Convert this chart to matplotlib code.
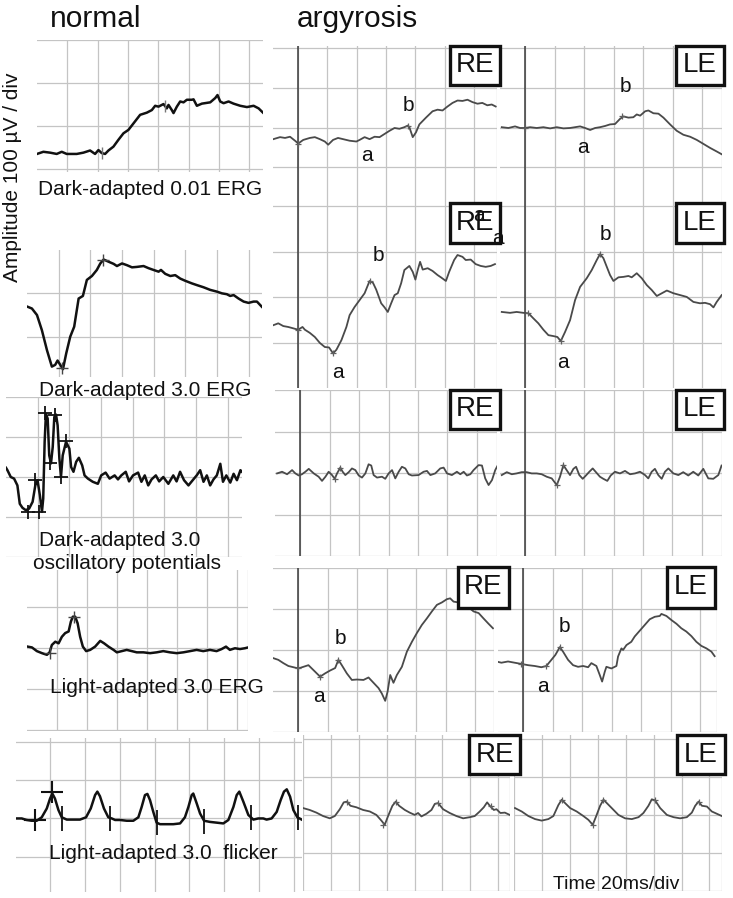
import matplotlib.pyplot as plt
from matplotlib.patches import Rectangle

plt.rcParams['font.family'] = ['Liberation Sans', 'DejaVu Sans']

W, H = 733, 898

# ---- normal column traces (time in ms, amplitude in uV) ----
n1_t = [0, 4.2, 8.6, 13, 16.3, 19.6, 26.2, 30.6, 35, 38.3, 40.5, 42.7, 44.9, 47.1, 50.4, 53.7, 57, 60.3,
        63.6, 68, 72.4, 75.7, 77.9, 80.1, 83.4, 85.6, 86.7, 88.9, 90, 92.2, 94.4, 96.6, 98.8, 102.1, 103.2,
        105.4, 108.7, 114.2, 117.5, 119, 120.8, 123, 126.3, 129.6, 134, 138.4, 142.8, 146.1, 149]
n1_v = [-65, -60, -62, -65, -60, -65, -65, -62, -57, -65, -56, -63, -65, -57, -48, -32, -17, -9,
        6, 26, 31, 37, 47, 45, 51, 41, 49, 37, 30, 45, 57, 55, 61, 61, 62,
        47, 52, 55, 65, 72, 57, 53, 57, 52, 47, 44, 47, 41, 31]
n1_mk_t = [42.7, 84.5]
n1_mk_v = [-63, 47]

n2_t = [0.4, 3.1, 6.3, 9.4, 12.6, 15.7, 17.8, 19.3, 21, 22.7, 24.8, 27.3, 29.8, 32.6, 35.3, 37.8, 41, 44.1,
        46.3, 48.4, 51.5, 54.7, 56.8, 60, 63.1, 66.3, 69.4, 73.6, 76.8, 79.9, 83.1, 84.6, 87.3, 90.5, 93.6,
        96.8, 99.9, 104.1, 107.3, 111.5, 115.7, 119.9, 123.1, 126.2, 128.3, 130.5, 133.6, 136.8, 139.9,
        143.1, 145.2, 148.3]
n2_v = [-31, -35, -50, -85, -131, -169, -165, -155, -165, -175, -138, -100, -77, -12, -6, 31, 40, 54,
        69, 78, 73, 68, 63, 69, 65, 60, 61, 63, 58, 54, 50, 54, 45, 40, 42,
        34, 29, 23, 19, 14, 8, 4, 0, -2, -6, -4, -12, -19, -22,
        -19, -19, -31]
n2_mk_t = [22, 48]
n2_mk_v = [-172, 78]

n3_t = [0, 0.9, 3, 5.1, 7.2, 8.7, 10.4, 12.5, 14.6, 16.8, 18.5, 19.9, 21.4, 22.7, 23.5, 24.4, 25.2, 26.3,
        27.3, 28.4, 29.5, 30.5, 31.6, 32.6, 33.7, 34.7, 35.8, 37.9, 40, 41.1, 42.6, 44.3, 46, 48.1, 49.6,
        51.7, 54.8, 58, 60.1, 62.9, 65.4, 68.6, 70.7, 72.8, 75.6, 77.7, 80.2, 83.4, 85.5, 87.6, 89.8, 91.9,
        94.6, 96.7, 99.3, 102.5, 105.6, 107.7, 109.9, 112.4, 115.2, 118.3, 120.4, 122.6, 124.7, 126.8,
        128.9, 131, 133.1, 135.3, 137, 139.1, 141.6, 143.7, 145.8, 148, 149]
n3_v = [23, 17, 0, -4, -21, -67, -77, -83, -79, -62, -21, -8, -46, -87, -54, 88, 158, 146,
        54, 34, 75, 150, 156, 129, 46, 0, 54, 88, 71, 25, 13, 38, 48, 29, 4,
        -4, -12, -17, 4, 11, -4, 4, -6, 4, 13, -11, 4, 11, -12, 4, -21, -6,
        4, -11, 0, -17, 4, -11, 13, -8, -21, -6, 4, 17, -12, 4,
        -21, -6, 4, 33, -12, 4, -14, 8, -8, 17, 13]
n3_mk_t = [13.6, 18.5, 21, 24.8, 27.8, 31.1, 34.7, 37.9]
n3_mk_v = [-87, -8, -87, 161, 36, 156, 0, 89]

n4_t = [0.4, 3.3, 6.6, 10, 13.3, 15.1, 16.6, 18.9, 21.1, 23.3, 25.5, 27.8, 29.3, 30.6, 32.2, 33.8, 35.5,
        37.3, 39.5, 42.2, 45.5, 48.9, 51.5, 54.4, 57.8, 60, 63.3, 66.6, 70, 73.3, 77.7, 82.2, 86.6, 91,
        95.5, 100, 104.4, 108.9, 113.3, 117.7, 122.2, 126.6, 130, 132.9, 135.5, 138.9, 142.2, 145.5, 147.7]
n4_v = [4, 2, -7, -12, -16, -10, 8, 16, 12, 28, 37, 41, 65, 77, 77, 61, 28,
        4, -7, -4, 4, 18, 12, 4, -4, -10, -7, -4, -7, -10, -10, -12, -10, -7,
        -10, -12, -10, -7, -4, -7, -4, -7, -2, 4, -4, 0, -2, 0, 2]
n4_mk_t = [15.1, 31.5]
n4_mk_v = [-12, 77]

n5_t = [0.7, 3.6, 6.4, 9.3, 12.2, 15.1, 18, 19.9, 21.2, 22.7, 24.7, 26.6, 29.5, 33.3, 37.1, 40.6, 43.3,
        45.8, 47.1, 48.6, 50.9, 53.4, 55.4, 57.3, 60.1, 64, 67.8, 70.7, 72.6, 74.5, 75.9, 77.4, 79.3, 81.2,
        83.2, 87, 90.8, 94.7, 97.5, 99.5, 101.4, 102.3, 104.3, 106.2, 108.5, 111.9, 115.8, 119.6, 122.5,
        125.4, 127.3, 128.8, 131.1, 134, 136.9, 139.7, 142.6, 144.5, 147.4, 150.3, 152.6, 154.5, 156.1,
        158, 159.9, 162.2, 164.7]
n5_v = [0, 0, -4, -6, -6, 3, 26, 52, 65, 52, 22, 3, -3, -3, -3, 3, 26,
        61, 70, 58, 26, 3, 0, -4, -4, -6, -6, 3, 30, 61, 64, 48, 17, -11,
        -15, -15, -15, -13, 3, 30, 61, 65, 39, 13, -6, -9, -11, -13, -4,
        30, 61, 70, 44, 9, -3, 0, 0, -3, 0, 17, 48, 70, 76, 57, 22, 3, -3]
n5_plus_t = [11.2, 20.8]
n5_plus_v = [-4, 70]
n5_tick_t = [26.6, 54.4, 81.2, 108.5, 135.3, 162.8]
n5_tick_v = [0, 0, -9, -6, 3, 3]

# ---- argyrosis traces ----
re1_t = [-16.7, -12.2, -8.8, -5.4, -2, 0.2, 3.6, 8.1, 11.5, 14.9, 18.3, 20.6, 23.9, 27.3, 30.7, 35.2, 39.8,
         42, 45.4, 48.8, 52.2, 55.6, 59, 62.4, 65.8, 69.1, 72.5, 74.8, 75.9, 78.2, 80.4, 82.7, 87.2, 91.7,
         95.1, 98.5, 101.9, 105.3, 108.7, 112.1, 115.5, 118.9, 122.3, 125.6, 129, 132, 134.7]
re1_v = [-29, -24, -26, -23, -33, -40, -31, -26, -24, -29, -35, -43, -31, -26, -29, -33, -35,
         -31, -24, -29, -23, -24, -16, -8, -1, -3, 1, 5, 1, -24, -12, 8, 25, 41,
         45, 43, 53, 62, 68, 67, 70, 64, 60, 62, 56, 58, 53]
re1_mk_t = [0.2, 74.8]
re1_mk_v = [-40, 5]

le1_t = [-15.8, -11.3, -6.8, -3.4, 0, 3.4, 7.9, 12.4, 17, 21.5, 26, 30.5, 33.9, 37.3, 40.7, 44.1, 47.5,
         50.8, 54.2, 57.6, 61, 64.4, 66.7, 70.1, 73.4, 75.7, 78, 81.4, 83.6, 87, 90.4, 93.8, 98.3, 102.8,
         107.3, 111.9, 116.4, 120.9, 125.4, 129.9, 133.3]
le1_v = [1, -1, 3, -1, -1, 1, -1, 1, -2, 1, -2, -1, 1, 3, -1, -6, -1,
         1, 4, 8, 9, 22, 28, 25, 26, 33, 30, 41, 43, 36, 35, 25, 8, -8,
         -18, -23, -31, -41, -51, -60, -67]
le1_mk_t = [0, 65.5]
le1_mk_v = [-1, 28]

re2_t = [-16.7, -13.4, -10, -6.6, -3.2, 0.2, 3.1, 4.7, 8.1, 11.5, 14.9, 18.3, 21.2, 23.9, 26.2, 29.6, 33,
         35.2, 38.6, 42, 45.4, 48.8, 51.1, 53.3, 56.7, 59, 61.2, 63.5, 65.8, 68, 70.3, 72.5, 75.9, 78.2,
         80, 81.6, 83.2, 85, 88.4, 91.7, 95.1, 97.4, 100.8, 103, 106.4, 108.7, 112.1, 114.3, 117.7, 121.1,
         124.5, 127.9, 131.3, 134.2]
re2_v = [-61, -57, -63, -65, -68, -71, -65, -71, -78, -87, -100, -109, -110, -123, -115, -94, -65,
         -39, -21, -6, 9, 36, 32, 17, -13, -22, -32, -13, 5, 9, 31, 60, 69, 56,
         39, 60, 78, 61, 64, 58, 49, 44, 36, 56, 82, 93, 89, 82, 83, 73,
         69, 67, 69, 73]
re2_mk_t = [0.2, 23.9, 48.8]
re2_mk_v = [-71, -123, 36]

le2_t = [-15.8, -10.2, -5.7, -1.1, 2.3, 5.6, 9, 12.4, 15.8, 19.2, 21.9, 24.2, 27.1, 30.5, 33.9, 37.3, 41.8,
         45.2, 48.6, 50.8, 53.1, 55.4, 57.6, 59.9, 63.3, 66.7, 70.1, 72.3, 75.7, 79.1, 82.5, 85.9, 89.3,
         92.7, 96.1, 100.6, 105.1, 109.6, 114.1, 118.6, 122, 125.4, 127.7, 129.9, 133.3]
le2_v = [-32, -34, -32, -34, -35, -46, -57, -71, -83, -85, -87, -96, -76, -50, -6, 23, 42,
         60, 82, 95, 86, 67, 49, 36, 44, 45, 47, 44, 53, 42, 27, 16, 3,
         9, 15, 9, 5, 1, -10, -13, -12, -15, -22, -10, 5]
le2_mk_t = [2.3, 24.2, 50.8]
le2_mk_v = [-35, -96, 95]

re3_t = [-15.6, -12.2, -8.8, -5.4, -3.2, -0.9, 1.3, 3.6, 5.9, 9.3, 12.6, 14.9, 17.2, 19.4, 21.7, 23.5, 25.1,
         27.3, 28.9, 30.7, 33, 35.2, 37.5, 39.8, 42, 44.3, 46.5, 48.3, 49.9, 52.2, 55.6, 57.8, 60.1, 62.4,
         64.6, 66.9, 69.1, 71.4, 73.7, 75.9, 80.4, 83.8, 86.1, 88.4, 91.7, 95.1, 97.4, 99.7, 103, 106.4,
         108.7, 111, 113.2, 115.5, 117.7, 121.1, 123.4, 125.6, 127.9, 130.2, 132.4, 134.2]
re3_v = [-1, 3, -3, 7, -1, -6, -3, 3, 10, -1, -9, -19, -9, 3, -5, -14, -1,
         13, 3, -5, 2, 11, 7, -6, -11, -1, 21, 18, -5, -11, -9, -14, -1, 7,
         -13, 3, 15, 11, -3, -6, -5, 3, 5, -5, -1, 11, 13, -1, -5, 3,
         -3, 3, -6, -3, 7, 19, 18, -13, -29, -17, 7, 19]
re3_mk_t = [23.5, 27.3]
re3_mk_v = [-14, 13]

le3_t = [-15.8, -12.4, -9, -5.7, -2.3, 1.1, 4.5, 7.9, 11.3, 14.7, 18.1, 21.5, 23.7, 26, 28.2, 30.5, 32.8,
         34.6, 36.8, 39.1, 41.3, 43.6, 45.9, 48.1, 50.8, 53.1, 55.8, 58.1, 61, 64.4, 67.8, 71.2, 74.6, 78,
         81.4, 83.6, 85.9, 88.1, 90.4, 92.7, 94.9, 97.2, 100.6, 104, 107.3, 110.7, 114.1, 117.5, 120.9,
         124.3, 127.7, 131.1, 133.3]
le3_v = [-5, 2, -3, -1, 2, 2, -1, -1, -3, -9, -13, -29, -9, 19, 7, -5, 10,
         15, -5, -14, -6, 3, 11, 2, -9, -14, -19, -6, 3, -1, 5, -3, -1, 3,
         -5, -13, 3, 10, -5, -14, 3, 11, -1, -5, 2, -6, 3, -6, 10, -13, -14, -5, 18]
le3_mk_t = [21.5, 26]
le3_mk_v = [-29, 19]

re4_t = [-16.7, -13.4, -10, -6.6, -3.2, 0.2, 3.6, 7, 10.4, 14.9, 18.3, 21.7, 25.1, 27.3, 29.6, 33, 36.4,
         39.8, 44.3, 47.7, 51.1, 54.5, 56.7, 59, 60.6, 62.4, 64.6, 66.9, 70.3, 73.7, 77.1, 80.4, 83.8, 87.2,
         90.6, 94, 97.4, 100.8, 103, 105.3, 108.7, 112.1, 115.5, 118.9, 122.3, 125.6, 129, 132]
re4_v = [-20, -24, -32, -39, -42, -45, -41, -37, -49, -65, -57, -50, -44, -24, -37, -57, -73,
         -72, -73, -67, -80, -93, -106, -124, -102, -61, -80, -61, -41, -4, 20, 41, 61, 77,
         94, 110, 116, 124, 126, 118, 116, 112, 104, 94, 90, 77, 64, 53]
re4_mk_t = [0.2, 14.9, 27.3]
re4_mk_v = [-45, -65, -24]

le4_t = [-18.1, -14.7, -10.2, -5.7, -1.1, 3.4, 7.9, 12.4, 15.8, 19.2, 21.9, 24.9, 27.1, 30.5, 33.9, 37.3,
         40.7, 44.1, 46.3, 49.7, 52, 53.6, 55.4, 56.5, 59.9, 63.3, 64.4, 66.7, 67.8, 70.1, 73.4, 75.7, 79.1,
         82.5, 85.9, 89.3, 92.7, 93.8, 97.2, 100.6, 104, 107.3, 110.7, 114.1, 117.5, 120.9, 124.3, 127.7,
         129.9]
le4_v = [-28, -31, -28, -31, -34, -37, -39, -42, -39, -24, -12, 7, -4, -24, -37, -41,
         -39, -42, -32, -39, -61, -77, -53, -41, -45, -39, -16, 4, 0, 12, 20, 33, 47,
         61, 75, 81, 83, 88, 83, 73, 64, 53, 45, 34, 20, 10, 4, -4, -15]
le4_mk_t = [-1.1, 15.8, 24.9]
le4_mk_v = [-34, -39, 7]

re5_t = [0, 4.8, 9.6, 14.4, 19.2, 22.8, 26.4, 29.2, 31.6, 34, 38.3, 43.1, 47.9, 52.6, 56.2, 58.6, 61, 64.1,
         66.5, 68.9, 73, 76.5, 80.1, 82.5, 84.9, 88.5, 92.1, 94.5, 96.9, 100.4, 105.2, 110, 114.8, 119.6,
         123.1, 126.7, 129.6, 132, 133.9, 136.8, 138.7, 141.5, 144.7, 148.2]
re5_v = [18, 13, 6, -3, -9, -3, 15, 33, 35, 24, 20, 13, 9, 0, -15, -26, -3, 24,
         35, 24, 13, 6, 0, 5, -4, 3, 13, 29, 31, 15, 5, -3, -9, -6, -3, 9, 20, 33, 24, 13, 15, 5, 6, 0]
re5_mk_t = [31.6, 57.4, 66.5, 96.9, 134.6]
re5_mk_v = [35, -26, 35, 31, 24]

le5_t = [0.7, 5.5, 10.3, 15.1, 19.8, 24.6, 28.2, 31.8, 34.2, 36.6, 40.2, 44.9, 49.7, 53.3, 56.4, 58.8, 61.7,
         64.1, 66.5, 70, 74.8, 79.6, 84.4, 89.2, 92.7, 96.3, 98.7, 101.1, 104.7, 109.5, 114.3, 119, 123.8,
         127.4, 129.8, 132.2, 134.6, 138.2, 141.7, 145.3, 148.9]
le5_v = [18, 9, -3, -11, -15, -11, -3, 26, 40, 31, 18, 9, -3, -13, -26, -4, 24,
         40, 31, 18, 0, -9, -11, -6, 5, 24, 41, 38, 18, 0, -6, -9, -6, 6, 24, 35, 24, 22, 9, 3, -3]
le5_mk_t = [34.2, 56.4, 64.1, 101.1, 132.2]
le5_mk_v = [40, -26, 40, 38, 35]

BLACK = '#111111'
TRACE_GRAY = '#4a4a4a'
GRID = '#c4c4c4'


def panel(l, t, r, b, xlim, ylim, xgrid, ygrid):
    ax = fig.add_axes([l / W, 1 - b / H, (r - l) / W, (b - t) / H])
    ax.set_xlim(*xlim)
    ax.set_ylim(*ylim)
    ax.set_xticks(xgrid)
    ax.set_yticks(ygrid)
    ax.grid(True, color=GRID, linewidth=0.9)
    ax.tick_params(length=0, labelbottom=False, labelleft=False)
    for s in ax.spines.values():
        s.set_visible(False)
    ax.patch.set_alpha(0)
    return ax


fig = plt.figure(figsize=(W / 100, H / 100), dpi=100)

# ---- normal column ----
ax = panel(37, 40, 263, 172, (0, 149), (-107, 200), range(20, 141, 20), [-100, 0, 100, 200])
ax.plot(n1_t, n1_v, color=BLACK, lw=1.8)
ax.plot(n1_mk_t, n1_mk_v, '|', color='#777777', ms=9, mew=1)

ax = panel(27, 250, 262, 377, (0, 148.4), (-193, 100), range(20, 141, 20), [-100, 0])
ax.plot(n2_t, n2_v, color=BLACK, lw=1.8)
ax.plot(n2_mk_t, n2_mk_v, '+', color='#444444', ms=8, mew=1)

ax = panel(6, 397, 242, 557, (0, 149), (-200, 200), range(20, 141, 20), [-200, -100, 0, 100, 200])
ax.plot(n3_t, n3_v, color=BLACK, lw=1.8)
ax.plot(n3_mk_t, n3_mk_v, '+', color=BLACK, ms=10, mew=1.3)

ax = panel(27, 570, 248.3, 731, (0, 147.8), (-202, 191), [20, 40, 60, 80, 100, 120, 140, 147.8],
           [-200, -100, 0, 100])
ax.plot(n4_t, n4_v, color=BLACK, lw=1.8)
ax.plot(n4_mk_t, n4_mk_v, '+', color='#444444', ms=8, mew=1)

ax = panel(15.5, 738, 301.7, 892, (0, 164.7), (-192, 210), range(20, 161, 20), [-100, 0, 100, 200])
ax.plot(n5_t, n5_v, color=BLACK, lw=1.8)
ax.plot(n5_plus_t, n5_plus_v, '+', color=BLACK, ms=16, mew=1.5)
ax.plot(n5_tick_t, n5_tick_v, '|', color=BLACK, ms=18, mew=1.3)

# ---- argyrosis panels ----
ag = [
    (273, 46, 497, 204, (-17, 135.6), (-192, 205), re1_t, re1_v, re1_mk_t, re1_mk_v, True),
    (500, 46, 722, 204, (-17, 133.5), (-192, 205), le1_t, le1_v, le1_mk_t, le1_mk_v, True),
    (273, 204, 497, 388, (-17, 135.6), (-199, 205), re2_t, re2_v, re2_mk_t, re2_mk_v, True),
    (500, 204, 722, 388, (-17, 133.5), (-199, 205), le2_t, le2_v, le2_mk_t, le2_mk_v, True),
    (275, 390, 497, 556, (-17, 133.6), (-200, 200), re3_t, re3_v, re3_mk_t, re3_mk_v, True),
    (500, 390, 722, 556, (-17, 133.6), (-200, 200), le3_t, le3_v, le3_mk_t, le3_mk_v, True),
    (273, 568, 494, 732, (-17, 132.7), (-200, 200), re4_t, re4_v, re4_mk_t, re4_mk_v, True),
    (498, 568, 717, 732, (-17, 131.5), (-200, 200), le4_t, le4_v, le4_mk_t, le4_mk_v, True),
    (303, 735, 510, 891, (0, 148.4), (-200, 210), re5_t, re5_v, re5_mk_t, re5_mk_v, False),
    (514, 735, 722, 891, (0, 149), (-200, 210), le5_t, le5_v, le5_mk_t, le5_mk_v, False),
]
axes = []
for l, t, r, b, xl, yl, tt, vv, mt, mv, stim in ag:
    xg = list(range(0, 121, 20)) + [xl[1]] if stim else list(range(0, 141, 20)) + [xl[1]]
    yg = [g for g in (-200, -100, 0, 100, 200) if yl[0] <= g <= yl[1]]
    ax = panel(l, t, r, b, xl, yl, xg, yg)
    if stim:
        ax.axvline(0, color='#3a3a3a', lw=1.1)
    ax.plot(tt, vv, color=TRACE_GRAY, lw=1.3)
    ax.plot(mt, mv, '+', color='#606060', ms=5, mew=0.9)
    axes.append(ax)

# a / b wave labels
ab = [(0, 75, 55, 47, -71), (1, 67.8, 102, 39.5, -50), (2, 54.5, 93, 27.3, -164),
      (3, 54.2, 137, 26, -142), (6, 28.5, 28, 13.8, -114), (7, 28.2, 57, 13.6, -89)]
for i, bt, bv, at, av in ab:
    axes[i].text(bt, bv, 'b', fontsize=15, ha='center', va='center', color=BLACK)
    axes[i].text(at, av, 'a', fontsize=15, ha='center', va='center', color=BLACK, clip_on=False)

# RE / LE boxes
boxes = [('RE', 450, 46, 500, 85), ('LE', 676, 46, 724, 85),
         ('RE', 450, 203, 500, 243), ('LE', 676, 203, 724, 243),
         ('RE', 450, 390, 500, 429), ('LE', 676, 390, 724, 429),
         ('RE', 458, 567, 509, 608), ('LE', 667, 567, 715, 608),
         ('RE', 469, 735, 520, 774), ('LE', 677, 735, 725, 774)]
for lab, x0, y0, x1, y1 in boxes:
    fig.add_artist(Rectangle((x0 / W, 1 - y1 / H), (x1 - x0) / W, (y1 - y0) / H,
                             transform=fig.transFigure, facecolor='white', edgecolor=BLACK,
                             lw=2.4, zorder=3))
    fig.text((x0 + x1) / 2 / W, 1 - (y0 + y1) / 2 / H, lab, fontsize=20, ha='center', va='center',
             color=BLACK, zorder=4)

# stray labels overlapping RE box in row 2 (as in the original figure)
fig.text(123, 180, 'a', fontsize=15, ha='center', va='center', color=BLACK,
         transform=axes[2].transData, zorder=5)
fig.text(136.5, 130, 'a', fontsize=15, ha='center', va='center', color=BLACK,
         transform=axes[2].transData, zorder=5)

# ---- texts ----
def ftext(x, y, s, **kw):
    fig.text(x / W, 1 - y / H, s, color=BLACK, **kw)


ftext(50, 27, 'normal', fontsize=21.5, ha='left', va='baseline')
ftext(297, 27, 'argyrosis', fontsize=21.5, ha='left', va='baseline')
ftext(13, 177, 'Amplitude 100 µV / div', fontsize=15, rotation=90, ha='center', va='center')
ftext(38, 195, 'Dark-adapted 0.01 ERG', fontsize=15, ha='left', va='baseline')
ftext(39, 396, 'Dark-adapted 3.0 ERG', fontsize=15, ha='left', va='baseline')
ftext(39, 546, 'Dark-adapted 3.0', fontsize=15, ha='left', va='baseline')
ftext(33, 569, 'oscillatory potentials', fontsize=15, ha='left', va='baseline')
ftext(50, 693, 'Light-adapted 3.0 ERG', fontsize=15, ha='left', va='baseline')
ftext(49, 859, 'Light-adapted 3.0  flicker', fontsize=15, ha='left', va='baseline')
ftext(553, 889, 'Time 20ms/div', fontsize=14, ha='left', va='baseline')

fig.savefig('out.png', dpi=100)
